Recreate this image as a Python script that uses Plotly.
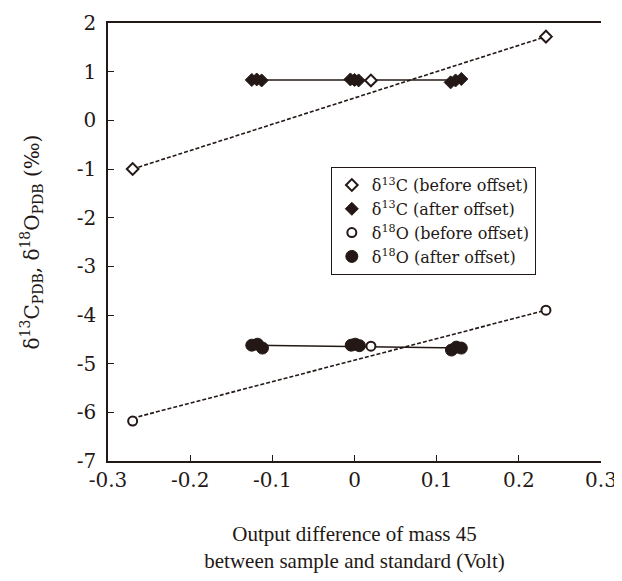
import plotly.graph_objects as go

# --- data ---
c13_before_x = [-0.270, 0.020, 0.233]
c13_before_y = [-1.00, 0.82, 1.72]

c13_after_x = [-0.125, -0.119, -0.113, -0.005, 0.000, 0.005, 0.117, 0.123, 0.130]
c13_after_y = [0.83, 0.84, 0.82, 0.84, 0.83, 0.82, 0.78, 0.82, 0.85]

o18_before_x = [-0.270, 0.020, 0.233]
o18_before_y = [-6.18, -4.64, -3.90]

o18_after_x = [-0.125, -0.118, -0.112, -0.004, 0.001, 0.006, 0.118, 0.124, 0.130]
o18_after_y = [-4.62, -4.60, -4.68, -4.62, -4.60, -4.63, -4.72, -4.66, -4.68]

# trend line end points
c13_before_trend_x = [-0.270, 0.233]
c13_before_trend_y = [-1.00, 1.72]
c13_after_trend_x = [-0.125, 0.130]
c13_after_trend_y = [0.83, 0.83]
o18_before_trend_x = [-0.270, 0.233]
o18_before_trend_y = [-6.12, -3.90]
o18_after_trend_x = [-0.125, 0.130]
o18_after_trend_y = [-4.62, -4.68]

x_ticks = [-0.3, -0.2, -0.1, 0, 0.1, 0.2, 0.3]
x_tick_labels = ["-0.3", "-0.2", "-0.1", "0", "0.1", "0.2", "0.3"]
y_ticks = [2, 1, 0, -1, -2, -3, -4, -5, -6, -7]
y_tick_labels = ["2", "1", "0", "-1", "-2", "-3", "-4", "-5", "-6", "-7"]

INK = "#231815"
FONT = "DejaVu Serif"
FONT2 = "Liberation Serif"

fig = go.Figure()

# lines (no legend)
for tx, ty, dash in [
    (c13_before_trend_x, c13_before_trend_y, "dash"),
    (o18_before_trend_x, o18_before_trend_y, "dash"),
    (c13_after_trend_x, c13_after_trend_y, "solid"),
    (o18_after_trend_x, o18_after_trend_y, "solid"),
]:
    fig.add_trace(go.Scatter(x=tx, y=ty, mode="lines", showlegend=False,
                             line=dict(color=INK, width=1.6 if dash == "dash" else 1.5,
                                       dash="4px,2px" if dash == "dash" else "solid"),
                             hoverinfo="skip"))

fig.add_trace(go.Scatter(
    x=c13_before_x, y=c13_before_y, mode="markers",
    name="δ<sup>13</sup>C (before offset)",
    marker=dict(symbol="diamond", size=9, color="white", line=dict(color=INK, width=2))))
fig.add_trace(go.Scatter(
    x=c13_after_x, y=c13_after_y, mode="markers",
    name="δ<sup>13</sup>C (after offset)",
    marker=dict(symbol="diamond", size=10, color=INK, line=dict(color=INK, width=1))))
fig.add_trace(go.Scatter(
    x=o18_before_x, y=o18_before_y, mode="markers",
    name="δ<sup>18</sup>O (before offset)",
    marker=dict(symbol="circle", size=9, color="white", line=dict(color=INK, width=2))))
fig.add_trace(go.Scatter(
    x=o18_after_x, y=o18_after_y, mode="markers",
    name="δ<sup>18</sup>O (after offset)",
    marker=dict(symbol="circle", size=12, color=INK, line=dict(color=INK, width=1))))

# page body has an 8px margin, so the figure is sized to fit the window without scrollbars
fig.update_layout(
    width=614, height=565,
    margin=dict(l=100, r=21, t=15, b=112),
    paper_bgcolor="white", plot_bgcolor="white",
    font=dict(family=FONT, size=19, color=INK),
    legend=dict(x=0.452, y=0.671, xanchor="left", yanchor="top",
                bordercolor=INK, borderwidth=1, bgcolor="white",
                font=dict(family=FONT, size=16, color=INK),
                tracegroupgap=0, itemwidth=30),
    xaxis=dict(range=[-0.3, 0.3], tickvals=x_ticks, ticktext=x_tick_labels,
               automargin=False, ticklabeloverflow="allow",
               showgrid=False, zeroline=False, showline=True, linecolor=INK, linewidth=1.5,
               mirror=True, ticks="inside", ticklen=6, tickcolor=INK,
               tickfont=dict(family=FONT, size=20, color=INK),
               title=dict(text="Output difference of mass 45<br>between sample and standard (Volt)",
                          standoff=40, font=dict(family=FONT2, size=21, color=INK))),
    yaxis=dict(range=[-7, 2], tickvals=y_ticks, ticktext=y_tick_labels,
               automargin=False, ticklabeloverflow="allow",
               showgrid=False, zeroline=False, showline=True, linecolor=INK, linewidth=1.5,
               ticks="inside", ticklen=6, tickcolor=INK, ticklabelstandoff=6,
               tickfont=dict(family=FONT, size=20, color=INK),
               title=dict(text="δ<sup>13</sup>C<sub>PDB</sub>, δ<sup>18</sup>O<sub>PDB</sub> (‰)",
                          standoff=32, font=dict(family=FONT, size=20, color=INK))),
)

fig.write_html("out.html")
